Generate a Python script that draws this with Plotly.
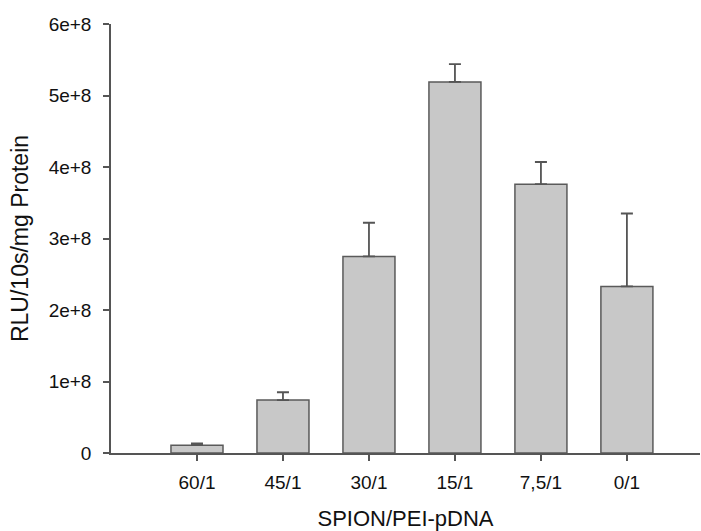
import plotly.graph_objects as go

categories = ["60/1", "45/1", "30/1", "15/1", "7,5/1", "0/1"]
values = [1.1e7, 7.4e7, 2.75e8, 5.19e8, 3.76e8, 2.33e8]
errors_up = [2.5e6, 1.1e7, 4.7e7, 2.5e7, 3.1e7, 1.02e8]
y_ticks = [0, 1e8, 2e8, 3e8, 4e8, 5e8, 6e8]
y_ticktext = ["0", "1e+8", "2e+8", "3e+8", "4e+8", "5e+8", "6e+8"]

axis_col = "#555555"
font_family = "Liberation Sans, Arial, sans-serif"

fig = go.Figure()
fig.add_trace(go.Bar(
    x=categories,
    y=values,
    width=0.605,
    marker=dict(color="#c8c8c8", line=dict(color="#5a5a5a", width=1.5)),
    error_y=dict(type="data", array=errors_up, arrayminus=[0]*len(values),
                 symmetric=False, color=axis_col, thickness=1.8, width=6),
))

fig.update_layout(
    width=701, height=531,
    margin=dict(l=111, r=1, t=24, b=78),
    paper_bgcolor="white", plot_bgcolor="white",
    showlegend=False,
    font=dict(family=font_family, color="#111111"),
)
fig.update_xaxes(
    type="category",
    range=[-1, 5.85],
    showline=True, linecolor=axis_col, linewidth=1.5,
    ticks="outside", ticklen=6, tickwidth=1.5, tickcolor=axis_col,
    tickfont=dict(size=19), ticklabelstandoff=5,
    showgrid=False, zeroline=False,
    title=dict(text="SPION/PEI-pDNA", font=dict(size=22), standoff=20),
)
fig.update_yaxes(
    range=[0, 6e8],
    tickvals=y_ticks, ticktext=y_ticktext,
    showline=True, linecolor=axis_col, linewidth=1.5,
    ticks="outside", ticklen=6, tickwidth=1.5, tickcolor=axis_col,
    tickfont=dict(size=19), ticklabelstandoff=8,
    showgrid=False, zeroline=False,
    title=dict(text="RLU/10s/mg Protein", font=dict(size=23), standoff=14),
)

fig.write_html("out.html")
